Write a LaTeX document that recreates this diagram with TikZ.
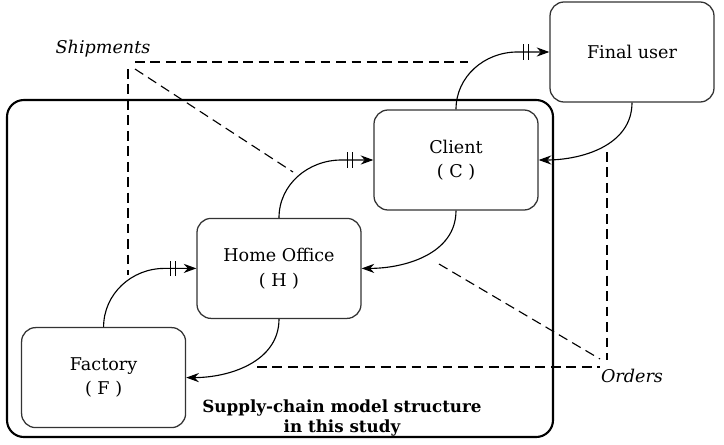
\documentclass[tikz,border=0pt]{standalone}
\usepackage{fontspec}
\setmainfont{DejaVu Serif}
\usetikzlibrary{arrows.meta,decorations.markings}
\tikzset{
    box/.style ={
        rectangle,
        rounded corners =10pt,
        minimum width =4.1cm,
        minimum height =2.5cm,
        inner sep=5pt,
        align=center,
        line width=0.9pt,
        draw=black!80
    },
    outerframe/.style ={
        rounded corners =12pt,
        line width=1.5pt
    },
    titletext/.style ={
        align=center,
        font=\fontsize{11.9}{14}\selectfont\bfseries
    },
    flowlabel/.style ={
        font=\fontsize{12.5}{15}\selectfont\itshape
    },
    link/.style ={
        dash pattern=on 7pt off 4pt,
        line width=0.8pt
    },
    back/.style ={
        -{Stealth[length=9pt,width=6.5pt]},
        line width=0.8pt
    },
    ship/.style ={
        back,
        postaction={decorate},
        decoration={markings,
            mark=at position -0.52cm with {\draw[-,line width=0.9pt] (0,-5.5pt)--(0,5.5pt);},
            mark=at position -0.65cm with {\draw[-,line width=0.9pt] (0,-5.5pt)--(0,5.5pt);}}
    }
}

\begin{document}
\begin{tikzpicture}[font=\fontsize{12.5}{17.5}\selectfont]
    \useasboundingbox (0,0) rectangle (18.1,11.1);

    % study boundary
    \draw[outerframe] (0.175,0.175) rectangle (13.825,8.6);

    \node[box] (USER) at(15.8,9.8) {Final user};
    \node[box] (CLIENT) at(11.4,7.1) {Client\\( C )};
    \node[box] (HOME) at(6.975,4.39) {Home Office\\( H )};
    \node[box] (FACTORY) at(2.59,1.66) {Factory\\( F )};
    \node[titletext] (TITLE) at(8.55,0.65) {Supply-chain model structure\\in this study};
    \node[flowlabel] (SHIP) at(2.575,9.875) {Shipments};
    \node[flowlabel] (ORD) at(15.8,1.7) {Orders};

    % shipments go up, orders come back
    \draw[ship] (FACTORY.north) to[out=90,in=180] ([xshift=-0.8cm]HOME.west) -- (HOME.west);
    \draw[ship] (HOME.north) to[out=90,in=180] ([xshift=-0.8cm]CLIENT.west) -- (CLIENT.west);
    \draw[ship] (CLIENT.north) to[out=90,in=180] ([xshift=-0.8cm]USER.west) -- (USER.west);
    \draw[back] (USER.south) to[out=-90,in=0] (CLIENT.east);
    \draw[back] (CLIENT.south) to[out=-90,in=0] (HOME.east);
    \draw[back] (HOME.south) to[out=-90,in=0] (FACTORY.east);

    % dashed pointers
    \coordinate (S1) at (3.375,9.55);
    \coordinate (S2) at (11.7,9.55);
    \coordinate (S3) at (3.2,9.375);
    \coordinate (S4) at (3.2,4.225);
    \coordinate (S5) at (3.375,9.375);
    \coordinate (S6) at (7.325,6.8);
    \coordinate (O1) at (6.425,1.925);
    \coordinate (O2) at (15.0,1.925);
    \coordinate (O3) at (15.175,7.3);
    \coordinate (O4) at (15.175,2.1);
    \coordinate (O5) at (10.975,4.5);
    \coordinate (O6) at (15.0,2.125);
    \draw[link] (S1)--(S2);
    \draw[link] (S3)--(S4);
    \draw[link] (S5)--(S6);
    \draw[link] (O1)--(O2);
    \draw[link] (O3)--(O4);
    \draw[link] (O5)--(O6);
\end{tikzpicture}
\end{document}
